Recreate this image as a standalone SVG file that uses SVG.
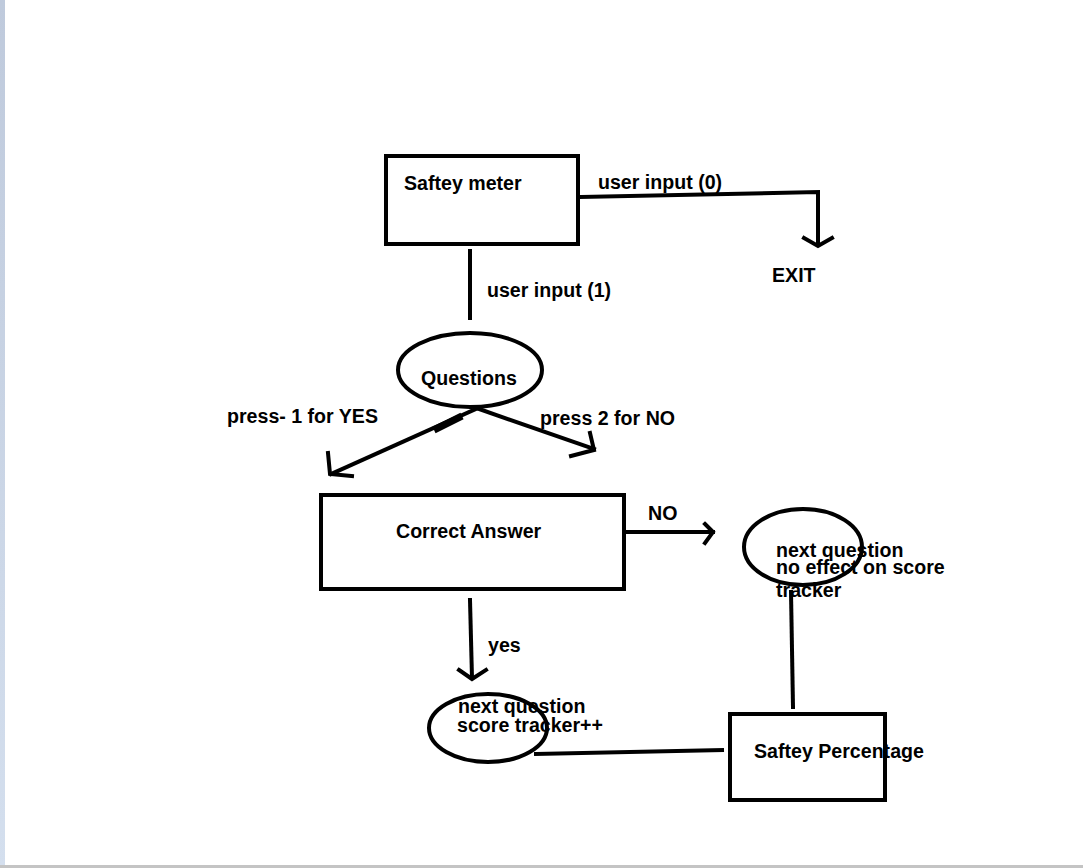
<svg xmlns="http://www.w3.org/2000/svg" width="1083" height="868" viewBox="0 0 1083 868">
<defs>
<linearGradient id="strip" x1="0" y1="0" x2="0" y2="1">
<stop offset="0" stop-color="#bfcadc"/>
<stop offset="1" stop-color="#d4dfee"/>
</linearGradient>
</defs>
<style>
.s{fill:none;stroke:#000;stroke-width:4;stroke-linecap:square;stroke-linejoin:miter}
.t{font-family:"Liberation Sans",Arial,sans-serif;font-weight:bold;font-size:19.6px;fill:#000}
</style>
<rect x="0" y="0" width="1083" height="868" fill="#fff"/>
<rect x="0" y="0" width="5" height="868" fill="url(#strip)"/>
<rect x="0" y="865" width="1083" height="3" fill="#c4c4c4"/>

<g id="saftey-meter">
<rect class="s" x="386" y="156" width="192" height="88"/>
<text class="t" x="404" y="190">Saftey meter</text>
</g>
<g id="exit">
<text class="t" x="772" y="282">EXIT</text>
</g>
<g id="questions">
<ellipse class="s" cx="470" cy="370" rx="72" ry="37"/>
<text class="t" x="421" y="385">Questions</text>
</g>
<g id="correct-answer">
<rect class="s" x="321" y="495" width="303" height="94"/>
<text class="t" x="396" y="538">Correct Answer</text>
</g>
<g id="next-no-effect">
<ellipse class="s" cx="803" cy="547" rx="59" ry="38"/>
<text class="t" x="776" y="557">next question</text>
<text class="t" x="776" y="574">no effect on score</text>
<text class="t" x="776" y="597">tracker</text>
</g>
<g id="next-score">
<ellipse class="s" cx="488" cy="728" rx="59" ry="34"/>
<text class="t" x="458" y="713">next question</text>
<text class="t" x="457" y="732">score tracker++</text>
</g>
<g id="saftey-percentage">
<rect class="s" x="730" y="714" width="155" height="86"/>
<text class="t" x="754" y="758">Saftey Percentage</text>
</g>

<g id="connectors">
<polyline class="s" points="581,197 818,192 818,244"/>
<polyline class="s" points="804,238 818,246 832,238"/>
<text class="t" x="598" y="189">user input (0)</text>

<line class="s" x1="470" y1="251" x2="470" y2="318"/>
<text class="t" x="487" y="297">user input (1)</text>

<line class="s" x1="476" y1="409" x2="331" y2="474"/>
<line x1="434" y1="430" x2="462" y2="416" stroke="#000" stroke-width="7"/>
<polyline class="s" points="328,453 330,474 352,476"/>
<text class="t" x="227" y="423">press- 1 for YES</text>

<line class="s" x1="479" y1="409" x2="594" y2="449"/>
<polyline class="s" points="590,433 594,450 571,456"/>
<text class="t" x="540" y="425">press 2 for NO</text>

<line class="s" x1="627" y1="532" x2="713" y2="532"/>
<polyline class="s" points="705,524 713,532 705,543"/>
<text class="t" x="648" y="520">NO</text>

<line class="s" x1="470" y1="600" x2="472" y2="678"/>
<polyline class="s" points="459,670 472,679 486,670"/>
<text class="t" x="488" y="652">yes</text>

<line class="s" x1="791" y1="592" x2="793" y2="707"/>
<line class="s" x1="536" y1="754" x2="722" y2="750"/>
</g>
</svg>
